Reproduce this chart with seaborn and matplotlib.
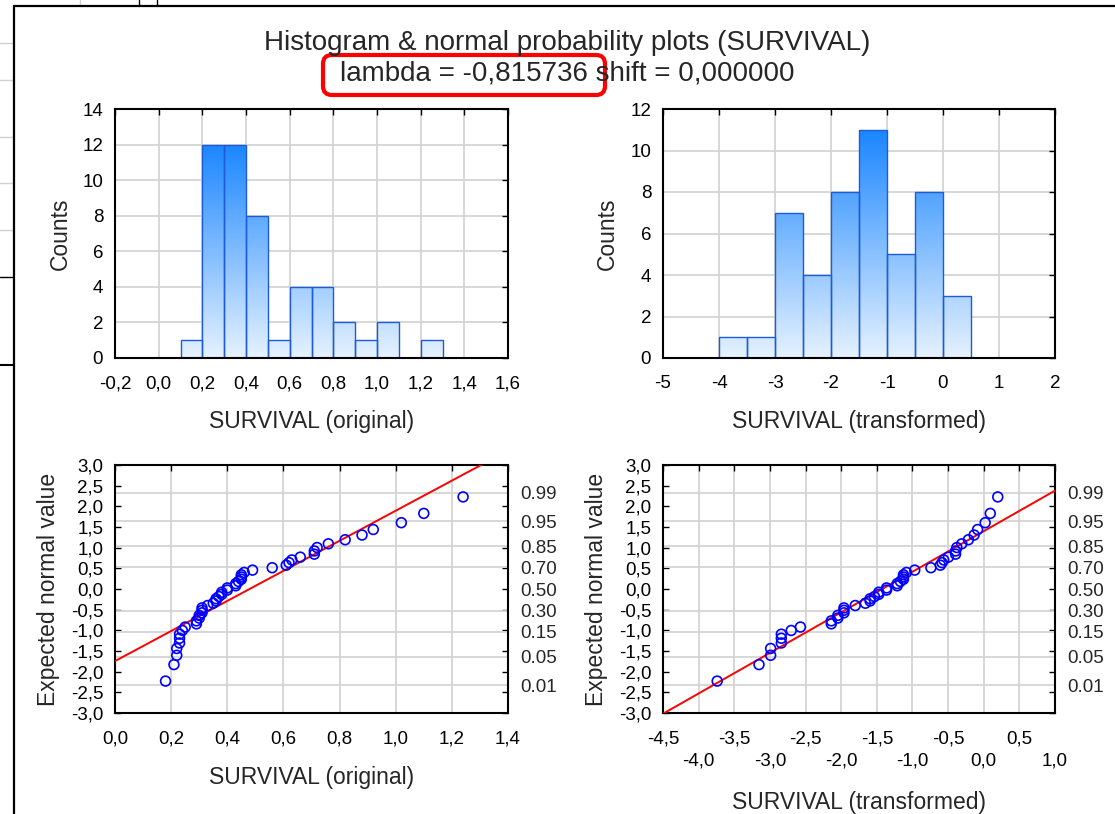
import numpy as np
import pandas as pd
import matplotlib
matplotlib.use("Agg")
import matplotlib.pyplot as plt
import matplotlib.patches as mpatches
from matplotlib.colors import LinearSegmentedColormap
from matplotlib.lines import Line2D
from matplotlib.transforms import IdentityTransform
import seaborn as sns

# ---------------- data ----------------
orig_bin_edges = [0.1, 0.2, 0.3, 0.4, 0.5, 0.6, 0.7, 0.8, 0.9, 1.0, 1.1, 1.2, 1.3]
orig_counts = [1, 12, 12, 8, 1, 4, 4, 2, 1, 2, 0, 1]

trans_bin_edges = [-4.0, -3.5, -3.0, -2.5, -2.0, -1.5, -1.0, -0.5, 0.0, 0.5]
trans_counts = [1, 1, 7, 4, 8, 11, 5, 8, 3]

survival_original = [0.18, 0.21, 0.22, 0.22, 0.23, 0.23, 0.23, 0.24, 0.25, 0.29,
                     0.29, 0.30, 0.30, 0.31, 0.31, 0.31, 0.33, 0.35, 0.36, 0.36,
                     0.37, 0.38, 0.38, 0.40, 0.40, 0.43, 0.43, 0.44, 0.45, 0.45,
                     0.45, 0.46, 0.49, 0.56, 0.61, 0.62, 0.63, 0.66, 0.71, 0.71,
                     0.72, 0.76, 0.82, 0.88, 0.92, 1.02, 1.10, 1.24]

survival_transformed = [-3.740, -3.153, -2.990, -2.990, -2.840, -2.840, -2.840, -2.701,
                        -2.572, -2.139, -2.139, -2.047, -2.047, -1.961, -1.961, -1.961,
                        -1.803, -1.661, -1.595, -1.595, -1.533, -1.473, -1.473, -1.363,
                        -1.363, -1.214, -1.214, -1.169, -1.126, -1.126, -1.126, -1.084,
                        -0.968, -0.741, -0.609, -0.585, -0.561, -0.495, -0.395, -0.395,
                        -0.377, -0.308, -0.215, -0.135, -0.086, 0.020, 0.092, 0.197]

expected_normal = [-2.228, -1.829, -1.604, -1.439, -1.306, -1.192, -1.093, -1.003,
                   -0.920, -0.843, -0.771, -0.703, -0.638, -0.576, -0.515, -0.457,
                   -0.400, -0.344, -0.290, -0.236, -0.183, -0.130, -0.078, -0.026,
                   0.026, 0.078, 0.130, 0.183, 0.236, 0.290, 0.344, 0.400,
                   0.457, 0.515, 0.576, 0.638, 0.703, 0.771, 0.843, 0.920,
                   1.003, 1.093, 1.192, 1.306, 1.439, 1.604, 1.829, 2.228]

hist1_xticklabels = ['-0,2', '0,0', '0,2', '0,4', '0,6', '0,8', '1,0', '1,2', '1,4', '1,6']
hist1_yticklabels = ['0', '2', '4', '6', '8', '10', '12', '14']
hist2_xticklabels = ['-5', '-4', '-3', '-2', '-1', '0', '1', '2']
hist2_yticklabels = ['0', '2', '4', '6', '8', '10', '12']
pp_yticklabels = ['-3,0', '-2,5', '-2,0', '-1,5', '-1,0', '-0,5', '0,0',
                  '0,5', '1,0', '1,5', '2,0', '2,5', '3,0']
pp1_xticklabels = ['0,0', '0,2', '0,4', '0,6', '0,8', '1,0', '1,2', '1,4']
pp2_xticklabels = ['-4,5', '\n-4,0', '-3,5', '\n-3,0', '-2,5', '\n-2,0',
                   '-1,5', '\n-1,0', '-0,5', '\n0,0', '0,5', '\n1,0']
prob_labels = ['0.01', '0.05', '0.15', '0.30', '0.50', '0.70', '0.85', '0.95', '0.99']
prob_z = [-2.326, -1.645, -1.036, -0.524, 0.0, 0.524, 1.036, 1.645, 2.326]

title_line1 = 'Histogram & normal probability plots (SURVIVAL)'
title_line2 = 'lambda = -0,815736 shift = 0,000000'

# ---------------- style ----------------
sns.set_style("white")
plt.rcParams['font.family'] = ['Liberation Sans', 'DejaVu Sans']

W, H = 1115, 814
fig = plt.figure(figsize=(W / 100, H / 100), dpi=100)
fig.patch.set_facecolor('white')

GRID = '#d4d4d4'
EDGE = '#1d5bd8'
TICK_FS = 13.5
LABEL_FS = 16.5
bar_cmap = LinearSegmentedColormap.from_list('bar', ['#e6f2ff', '#1a86ff'])


def px_axes(l, t, r, b):
    return fig.add_axes([l / W, 1 - b / H, (r - l) / W, (b - t) / H])


def style(ax):
    ax.set_axisbelow(True)
    for s in ax.spines.values():
        s.set_visible(True)
        s.set_color('black')
        s.set_linewidth(1.5)
    ax.tick_params(direction='in', length=4, width=1, colors='black',
                   top=True, right=True, labelsize=TICK_FS)
    ax.tick_params(axis='x', pad=12.5)
    ax.tick_params(axis='y', pad=8.5)
    ax.grid(True, color=GRID, linewidth=1.3)


def draw_hist(ax, edges, counts, xlim, ylim, xticks, xlabels, yticks, ylabels, xlabel):
    style(ax)
    edge_list = [float(e) for e in edges]
    counts = np.asarray(counts, dtype=float)
    centers = [(a + b) / 2 for a, b in zip(edge_list[:-1], edge_list[1:])]
    df = pd.DataFrame({'center': centers, 'count': counts})
    sns.histplot(data=df, x='center', weights='count', bins=edge_list, ax=ax,
                 edgecolor=EDGE, linewidth=1.0, alpha=1)
    grad = np.linspace(0, 1, 256).reshape(-1, 1)
    top = counts.max()
    for p in list(ax.patches):
        h = p.get_height()
        p.set_facecolor('none')
        p.set_zorder(2)
        if h <= 0:
            p.set_visible(False)
            continue
        x0, w = p.get_x(), p.get_width()
        im = ax.imshow(grad, extent=[x0, x0 + w, 0, top], origin='lower',
                       aspect='auto', cmap=bar_cmap, zorder=1.5,
                       interpolation='bilinear')
        im.set_clip_path(p)
    ax.set_xlim(xlim)
    ax.set_ylim(ylim)
    ax.set_xticks(xticks)
    ax.set_xticklabels(xlabels)
    ax.set_yticks(yticks)
    ax.set_yticklabels(ylabels)
    ax.set_xlabel(xlabel, fontsize=LABEL_FS)
    ax.set_ylabel('Counts', fontsize=LABEL_FS)


def draw_pp(ax, x, y, xlim, xticks, xlabels, xlabel):
    style(ax)
    ax.set_xlim(xlim)
    ax.set_ylim(-3, 3)
    df = pd.DataFrame({'x': x, 'y': y})
    sns.regplot(data=df, x='x', y='y', ax=ax, scatter=False, ci=None,
                truncate=False, line_kws=dict(color='#ff0000', linewidth=1.4, zorder=3))
    sns.scatterplot(data=df, x='x', y='y', ax=ax, s=50, facecolor='none',
                    edgecolor='#0000ff', linewidth=1.2, zorder=4)
    ax.set_xlim(xlim)
    ax.set_ylim(-3, 3)
    ax.set_xticks(xticks)
    xt = ax.set_xticklabels(xlabels)
    for t in xt:
        t.set_linespacing(1.42)
    ax.set_yticks(np.arange(-3, 3.01, 0.5))
    ax.set_yticklabels(pp_yticklabels)
    ax.set_yticks(prob_z, minor=True)
    ax.yaxis.grid(False, which='major')
    ax.yaxis.grid(True, which='minor', color=GRID, linewidth=1.3)
    ax.tick_params(axis='y', which='minor', length=0)
    ax.set_xlabel(xlabel, fontsize=LABEL_FS)
    ax.set_ylabel('Expected normal value', fontsize=LABEL_FS)
    axr = ax.twinx()
    axr.set_ylim(-3, 3)
    axr.set_yticks(prob_z)
    axr.set_yticklabels(prob_labels)
    axr.tick_params(axis='y', length=0, pad=9, labelsize=TICK_FS)
    axr.grid(False)
    for s in axr.spines.values():
        s.set_visible(False)
    ax.tick_params(axis='y', which='major', right=True, labelright=False,
                   direction='in', length=4)
    return axr


ax_h1 = px_axes(115, 109, 508, 358)
ax_h2 = px_axes(663, 109, 1055, 358)
ax_p1 = px_axes(115, 465, 508, 713)
ax_p2 = px_axes(663, 465, 1055, 713)

draw_hist(ax_h1, orig_bin_edges, orig_counts, (-0.2, 1.6), (0, 14),
          np.arange(-0.2, 1.61, 0.2), hist1_xticklabels,
          np.arange(0, 14.1, 2), hist1_yticklabels, 'SURVIVAL (original)')
draw_hist(ax_h2, trans_bin_edges, trans_counts, (-5, 2), (0, 12),
          np.arange(-5, 2.1, 1), hist2_xticklabels,
          np.arange(0, 12.1, 2), hist2_yticklabels, 'SURVIVAL (transformed)')
draw_pp(ax_p1, survival_original, expected_normal, (0.0, 1.4),
        np.arange(0, 1.41, 0.2), pp1_xticklabels, 'SURVIVAL (original)')
draw_pp(ax_p2, survival_transformed, expected_normal, (-4.5, 1.0),
        np.arange(-4.5, 1.01, 0.5), pp2_xticklabels, 'SURVIVAL (transformed)')

# label placement
for ax, xl_y, yl_x in [(ax_h1, -0.257, -0.140), (ax_h2, -0.257, -0.143),
                       (ax_p1, -0.262, -0.168), (ax_p2, -0.359, -0.170)]:
    ax.xaxis.set_label_coords(0.5, xl_y)
    ax.xaxis.label.set_va('center')
    ax.yaxis.set_label_coords(yl_x, 0.5)
    ax.yaxis.label.set_va('center')
    ax.yaxis.label.set_ha('center')

# titles
fig.text(567.5 / W, 1 - 43 / H, title_line1, ha='center', va='center', fontsize=20)
fig.text(567.5 / W, 1 - 73 / H, title_line2, ha='center', va='center', fontsize=20)

# red highlight box (pixel coordinates)
box = mpatches.FancyBboxPatch((323, H - 95), 282, 40,
                              boxstyle='round,pad=0,rounding_size=9',
                              transform=IdentityTransform(), fill=False,
                              edgecolor='#ff0000', linewidth=3)
fig.add_artist(box)


# window frame & background remnants
def fig_line(xs, ys, color, lw):
    fig.add_artist(Line2D([x / W for x in xs], [1 - y / H for y in ys],
                          color=color, linewidth=lw, transform=fig.transFigure))


for yy in [43, 80, 137, 183, 230]:
    fig_line([0, 13], [yy, yy], '#d0d0d0', 1)
fig_line([80, 80], [0, 5], '#d0d0d0', 1)
fig_line([139, 139], [0, 6], 'black', 1)
fig_line([157, 157], [0, 6], 'black', 1)
fig_line([0, 13], [277, 277], 'black', 1)
fig_line([0, 13], [365, 365], 'black', 1.5)
fig_line([14, W], [6, 6], 'black', 1.6)
fig_line([14, 14], [6, H], 'black', 1.6)

fig.savefig('out.png', dpi=100, facecolor='white')
